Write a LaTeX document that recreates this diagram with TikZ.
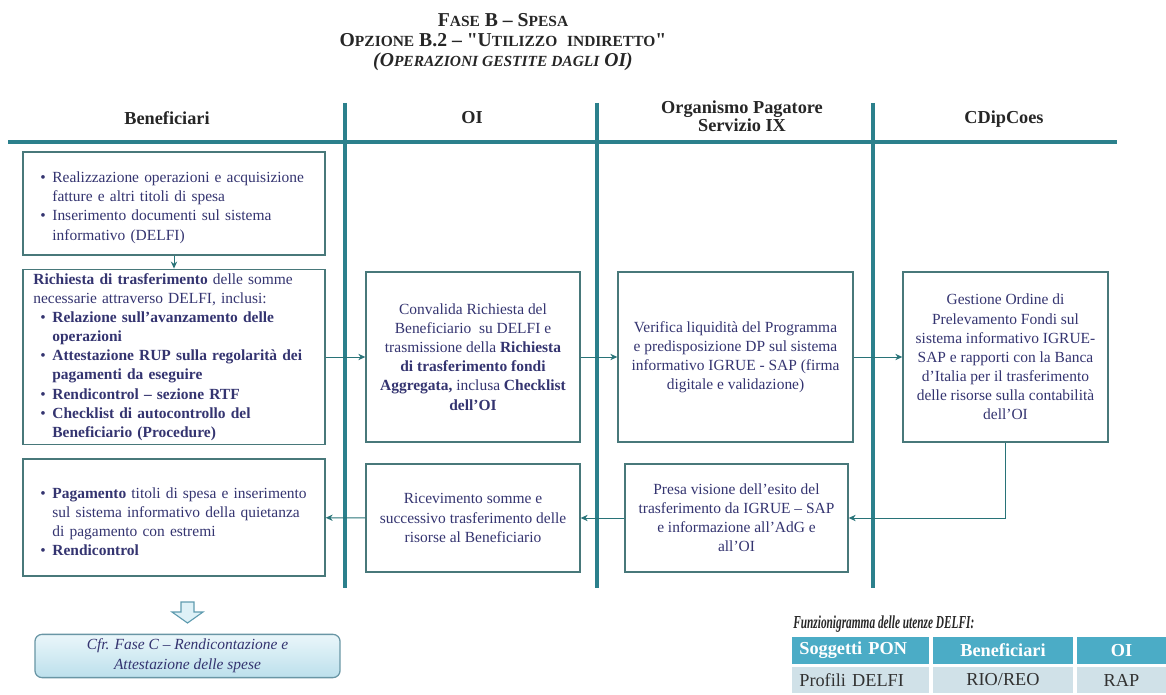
\documentclass[tikz,border=0pt]{standalone}
\usepackage{fontspec}
\setmainfont{Liberation Serif}
\newfontfamily\narrowfont[FakeStretch=0.62]{Liberation Serif}
\usetikzlibrary{arrows.meta, shadings}

% Colors
\definecolor{laneTeal}{RGB}{43,128,140}
\definecolor{boxEdge}{RGB}{72,120,122}
\definecolor{textNavy}{RGB}{52,52,112}
\definecolor{arrowTeal}{RGB}{40,115,120}
\definecolor{headGrey}{RGB}{38,38,38}
\definecolor{tabTeal}{RGB}{75,172,198}
\definecolor{tabRow}{RGB}{208,225,232}
\definecolor{tabText}{RGB}{50,50,50}
\definecolor{cfrTop}{RGB}{234,246,250}
\definecolor{cfrBot}{RGB}{188,224,236}
\definecolor{cfrEdge}{RGB}{105,150,165}
\definecolor{arrowFill}{RGB}{222,241,247}
\definecolor{arrowEdge}{RGB}{95,155,175}

% bullet line with hanging indent
\newcommand{\bitem}[1]{\par\hangindent=13.5pt\hangafter=1\noindent\hbox to 13.5pt{\hskip 5pt\textbullet\hfil}#1\par}
% small capitals, faked
\newcommand{\sm}[1]{{\fontsize{11}{14}\selectfont #1}}

\begin{document}
\begin{tikzpicture}[
  x=0.025cm, y=-0.025cm,
  font=\fontsize{11}{13.6}\selectfont,
  lane/.style={draw=laneTeal, line width=2.2pt},
  box/.style={draw=boxEdge, line width=0.9pt, text=textNavy, inner xsep=7pt, inner ysep=3pt},
  listbox/.style={box, align=left, text width=200pt, minimum width=7.55cm},
  flowbox/.style={box, align=center},
  head/.style={font=\fontsize{13}{13}\selectfont\bfseries, text=headGrey, align=center},
  flow/.style={draw=arrowTeal, line width=0.7pt, -{Stealth[length=5pt, width=4.5pt]}},
  thead/.style={fill=tabTeal, text=white, font=\fontsize{13}{15}\selectfont\bfseries, inner sep=0pt},
  tcell/.style={fill=tabRow, text=tabText, font=\fontsize{13}{15}\selectfont, inner sep=0pt}
]
  \useasboundingbox (0,0) rectangle (1166,695);

  % Title
  \node[align=center, font=\fontsize{14}{14}\selectfont\bfseries, text=headGrey] (title) at (503,42)
    {F\sm{ASE} B -- S\sm{PESA}\\
     O\sm{PZIONE} B.2 -- \textquotedbl U\sm{TILIZZO}\ \ \sm{INDIRETTO}\textquotedbl\\
     \itshape (O\sm{PERAZIONI GESTITE DAGLI} OI)};

  % --- LANES ---
  \node[head] (hBenef) at (167,118) {Beneficiari};
  \node[head] (hOI) at (472,118) {OI};
  \node[head] (hOP) at (742,116) {Organismo Pagatore\\Servizio IX};
  \node[head] (hCD) at (1004,119) {CDipCoes};

  \coordinate (laneL) at (8,142);
  \coordinate (laneR) at (1117,142);
  \draw[lane] (laneL) -- (laneR);
  \foreach \x in {345,597,873}
    \draw[lane] (\x,103) -- (\x,588);

  % --- BOXES ---
  % Beneficiari
  \node[listbox, minimum height=2.575cm] (bRealizza) at (174,203.5)
    {\bitem{Realizzazione operazioni e acquisizione\newline fatture e altri titoli di spesa}
     \bitem{Inserimento documenti sul sistema\newline informativo (DELFI)}};
  \node[listbox, minimum height=4.25cm] (bRichiesta) at (174,357)
    {\noindent\textbf{Richiesta di trasferimento} delle somme\newline necessarie attraverso DELFI, inclusi:
     \bitem{\textbf{Relazione sull'avanzamento delle\newline operazioni}}
     \bitem{\textbf{Attestazione RUP sulla regolarità dei\newline pagamenti da eseguire}}
     \bitem{\textbf{Rendicontrol -- sezione RTF}}
     \bitem{\textbf{Checklist di autocontrollo del\newline Beneficiario (Procedure)}}};
  \node[listbox, minimum height=2.925cm] (bPagamento) at (174,517.5)
    {\bitem{\textbf{Pagamento} titoli di spesa e inserimento\newline sul sistema informativo della quietanza\newline di pagamento con estremi}
     \bitem{\textbf{Rendicontrol}}};

  % OI
  \node[flowbox, minimum width=5.35cm, minimum height=4.25cm] (oConvalida) at (473,357)
    {Convalida Richiesta del\\Beneficiario\ \ su DELFI e\\trasmissione della \textbf{Richiesta}\\
     \textbf{di trasferimento fondi}\\\textbf{Aggregata,} inclusa \textbf{Checklist}\\\textbf{dell'OI}};
  \node[flowbox, minimum width=5.35cm, minimum height=2.7cm] (oRicevimento) at (473,518)
    {Ricevimento somme e\\successivo trasferimento delle\\risorse al Beneficiario};

  % Organismo Pagatore
  \node[flowbox, minimum width=5.875cm, minimum height=4.25cm] (pVerifica) at (735.5,357)
    {Verifica liquidità del Programma\\e predisposizione DP sul sistema\\informativo IGRUE - SAP (firma\\digitale e validazione)};
  \node[flowbox, minimum width=5.575cm, minimum height=2.7cm] (pPresa) at (736.5,518)
    {Presa visione dell'esito del\\trasferimento da IGRUE -- SAP\\e informazione all'AdG e\\all'OI};

  % CDipCoes
  \node[flowbox, minimum width=5.125cm, minimum height=4.25cm] (cGestione) at (1005.5,357)
    {Gestione Ordine di\\Prelevamento Fondi sul\\sistema informativo IGRUE-\\SAP e rapporti con la Banca\\
     d'Italia per il trasferimento\\delle risorse sulla contabilità\\dell'OI};

  % --- ARROWS ---
  \draw[flow] (bRealizza) -- (bRichiesta);
  \draw[flow] (bRichiesta) -- (oConvalida);
  \draw[flow] (oConvalida) -- (pVerifica);
  \draw[flow] (pVerifica) -- (cGestione);
  \draw[flow] (cGestione.south) |- (pPresa.east);
  \draw[flow] (pPresa) -- (oRicevimento);
  \draw[flow] (oRicevimento) -- (bPagamento);

  % block arrow to Fase C
  \draw[fill=arrowFill, draw=arrowEdge, line width=0.8pt]
    (181,602) -- (194,602) -- (194,612) -- (203,612) -- (187.5,623) -- (172,612) -- (181,612) -- cycle;
  \node[draw=cfrEdge, line width=0.9pt, rounded corners=5pt, top color=cfrTop, bottom color=cfrBot,
        minimum width=7.625cm, minimum height=1.05cm, align=center, text=textNavy,
        font=\fontsize{11}{14}\selectfont\itshape] (cfr) at (187.5,656)
    {Cfr. Fase C -- Rendicontazione e\\Attestazione delle spese};

  % --- TABLE ---
  \node[anchor=west, font=\narrowfont\fontsize{13}{15}\selectfont\bfseries\itshape, text=headGrey, inner sep=0pt]
    (tabTitle) at (793,624) {Funzionigramma delle utenze DELFI:};
  \node[thead, minimum width=3.425cm, minimum height=0.675cm, inner xsep=5pt, text width=87pt, align=left]
    (t11) at (860.5,650.5) {Soggetti PON};
  \node[thead, minimum width=3.5cm, minimum height=0.675cm] (t12) at (1003,650.5) {Beneficiari};
  \node[thead, minimum width=2.225cm, minimum height=0.675cm] (t13) at (1121.5,650.5) {OI};
  \node[tcell, minimum width=3.425cm, minimum height=0.65cm, inner xsep=5pt, text width=87pt, align=left]
    (t21) at (860.5,680) {Profili DELFI};
  \node[tcell, minimum width=3.5cm, minimum height=0.65cm] (t22) at (1003,680) {RIO/REO};
  \node[tcell, minimum width=2.225cm, minimum height=0.65cm] (t23) at (1121.5,680) {RAP};

\end{tikzpicture}
\end{document}
